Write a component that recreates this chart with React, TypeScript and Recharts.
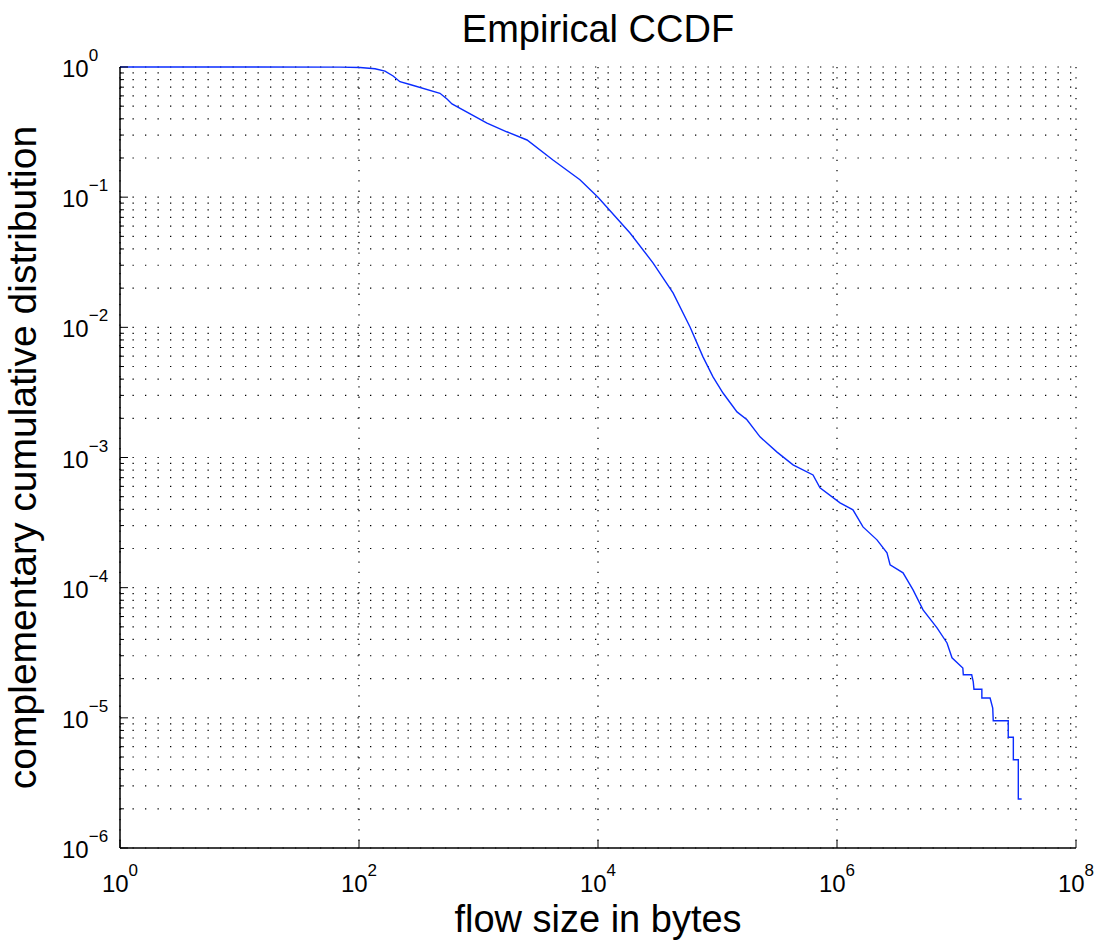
import { LineChart, Line, XAxis, YAxis, CartesianGrid } from "recharts";

const flowSize = [
  1, 10, 69, 102, 136, 165, 193, 220, 267, 476, 545, 600, 1178, 1722, 2547,
  4200, 7060, 10000, 18530, 28840, 42460, 58900, 75600, 91700, 111200, 145600,
  176400, 226800, 315000, 428600, 630000, 720500, 1060000, 1360000, 1650000,
  2160000, 2620000, 2780000, 3570000, 4330000, 5250000, 6870000, 8330000,
  9170000, 11300000, 11400000, 13400000, 13800000, 14000000, 16300000,
  16300000, 19100000, 20100000, 20300000, 27100000, 27100000, 29900000,
  29900000, 32900000, 32900000, 35100000,
];
const ccdf = [
  1, 1, 0.998, 0.99, 0.97, 0.93, 0.853, 0.771, 0.734, 0.628, 0.568, 0.52,
  0.371, 0.318, 0.275, 0.193, 0.136, 0.1, 0.0531, 0.0313, 0.0184, 0.01007,
  0.00593, 0.00416, 0.00313, 0.00224, 0.00195, 0.00144, 0.0011, 0.000877,
  0.000734, 0.000584, 0.000448, 0.000396, 0.000293, 0.000233, 0.000185,
  0.00015, 0.00013, 0.0000962, 0.0000675, 0.0000491, 0.0000376, 0.0000289,
  0.0000241, 0.0000214, 0.0000214, 0.000019, 0.0000166, 0.0000166, 0.0000142,
  0.0000142, 0.0000119, 0.0000095, 0.0000095, 0.0000071, 0.0000071,
  0.00000476, 0.00000476, 0.00000238, 0.00000238,
];

const xTicks = [1, 1e2, 1e4, 1e6, 1e8];
const yMajor = [1e-6, 1e-5, 1e-4, 1e-3, 1e-2, 1e-1, 1];
const minorSteps = [2, 3, 4, 5, 6, 7, 8, 9];

const yTicks = yMajor.flatMap((m) =>
  m < 1 ? [m, ...minorSteps.map((s) => s * m)] : [m]
);

const data = flowSize.map((s, i) => ({ size: s, ccdf: ccdf[i] }));

const FONT = "'Liberation Sans', Arial, Helvetica, sans-serif";

function expLabel(v: number) {
  const e = Math.round(Math.log10(v));
  return e < 0 ? "\u2212" + Math.abs(e) : String(e);
}

function XTick({ x, y, payload }: any) {
  return (
    <g>
      <line x1={x} x2={x} y1={y} y2={y - 8} stroke="#000" />
      <text x={x} y={y + 44} textAnchor="middle" fontFamily={FONT} fill="#000">
        <tspan fontSize={24}>10</tspan>
        <tspan fontSize={17} dy={-16}>{expLabel(payload.value)}</tspan>
      </text>
    </g>
  );
}

function YTick({ x, y, payload }: any) {
  const v = payload.value;
  const lg = Math.log10(v);
  const major = Math.abs(lg - Math.round(lg)) < 1e-6;
  if (!major) {
    return <line x1={x} x2={x + 4} y1={y} y2={y} stroke="#000" />;
  }
  return (
    <g>
      <line x1={x} x2={x + 8} y1={y} y2={y} stroke="#000" />
      <text x={x - 58} y={y + 10} textAnchor="start" fontFamily={FONT} fill="#000">
        <tspan fontSize={24}>10</tspan>
        <tspan fontSize={17} dy={-16}>{expLabel(v)}</tspan>
      </text>
    </g>
  );
}

export default function App() {
  return (
    <div style={{ position: "absolute", left: 0, top: 0, width: 1099, height: 941, background: "#fff" }}>
      <div
        style={{
          position: "absolute",
          left: 398,
          top: 10,
          width: 400,
          textAlign: "center",
          fontFamily: FONT,
          fontSize: 38,
          lineHeight: "38px",
          color: "#000",
        }}
      >
        Empirical CCDF
      </div>
      <LineChart
        width={1099}
        height={941}
        data={data}
        margin={{ top: 67, right: 23, bottom: 0, left: 0 }}
      >
        <CartesianGrid
          vertical={false}
          horizontalValues={yTicks}
          stroke="#000"
          strokeWidth={1.2}
          strokeDasharray="1.3 11.2"
        />
        <CartesianGrid
          horizontal={false}
          verticalValues={xTicks}
          stroke="#000"
          strokeWidth={1.2}
          strokeDasharray="1.3 9"
        />
        <XAxis
          dataKey="size"
          type="number"
          scale="log"
          domain={[1, 1e8]}
          ticks={xTicks}
          height={93}
          tickSize={0}
          tickMargin={0}
          tickLine={false}
          axisLine={{ stroke: "#000", strokeWidth: 1.5 }}
          tick={<XTick />}
          interval={0}
          label={{
            value: "flow size in bytes",
            position: "insideBottom",
            offset: 9,
            fontSize: 38,
            fontFamily: FONT,
            fill: "#000",
          }}
        />
        <YAxis
          type="number"
          scale="log"
          domain={[1e-6, 1]}
          ticks={yTicks}
          width={120}
          tickSize={0}
          tickMargin={0}
          tickLine={false}
          axisLine={{ stroke: "#000", strokeWidth: 1.5 }}
          tick={<YTick />}
          interval={0}
          label={{
            value: "complementary cumulative distribution",
            angle: -90,
            position: "insideLeft",
            offset: 22,
            fontSize: 39,
            fontFamily: FONT,
            fill: "#000",
            style: { textAnchor: "middle" },
          }}
        />
        <Line
          type="linear"
          dataKey="ccdf"
          stroke="#0a2cff"
          strokeWidth={1.4}
          dot={false}
          activeDot={false}
          isAnimationActive={false}
        />
      </LineChart>
    </div>
  );
}
